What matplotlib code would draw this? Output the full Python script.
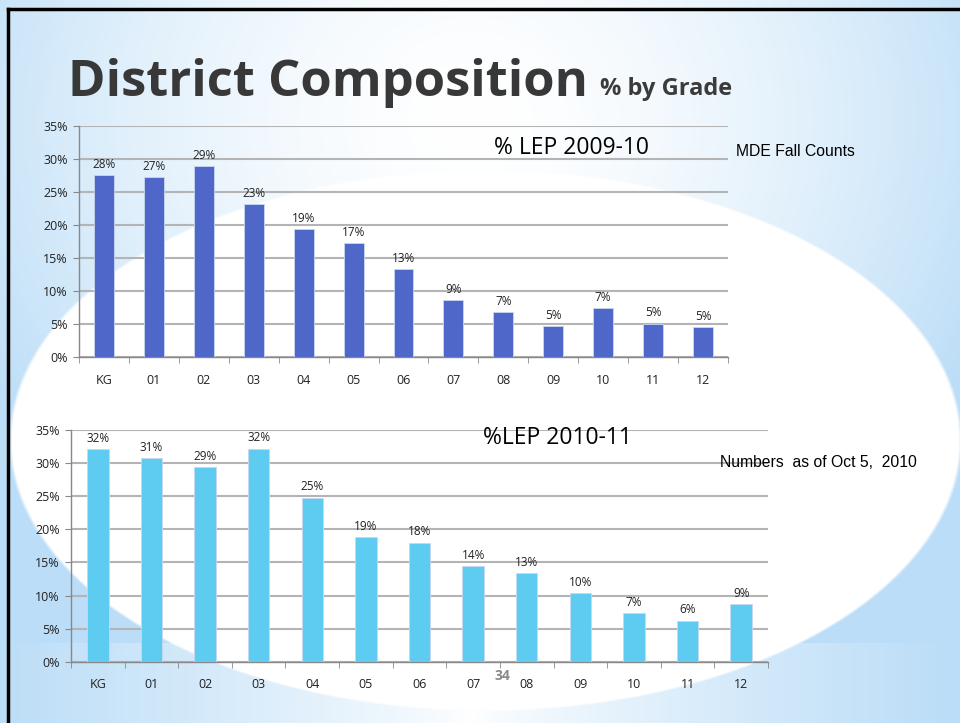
import numpy as np
import matplotlib
matplotlib.use("Agg")
import matplotlib.pyplot as plt
from matplotlib.lines import Line2D

grades = ["KG", "01", "02", "03", "04", "05", "06", "07", "08", "09", "10", "11", "12"]
lep_2009 = [27.6, 27.3, 28.9, 23.2, 19.4, 17.3, 13.3, 8.7, 6.8, 4.7, 7.4, 5.1, 4.6]
lep_2010 = [32.1, 30.7, 29.4, 32.2, 24.8, 18.8, 18.0, 14.4, 13.4, 10.4, 7.4, 6.2, 8.7]
yticks = [0, 5, 10, 15, 20, 25, 30, 35]

W, H = 960, 723
fig = plt.figure(figsize=(W / 100, H / 100), dpi=100)

# slide background: blue gradient, white glow, bottom band, white ellipse
yy, xx = np.mgrid[0:H, 0:W].astype(float)
blue = np.array([0.74, 0.87, 0.97])
white = np.array([1.0, 1.0, 1.0])
t = np.clip(np.sqrt(((xx - 470) / 560) ** 2 + ((yy - 120) / 520) ** 2), 0, 1) ** 1.6
img = white * (1 - t[..., None]) + blue * t[..., None]
band = yy >= 643
tb = np.clip(np.abs(xx - 470) / 470, 0, 1) ** 0.8
img[band] = (white * (1 - tb[..., None]) + blue * tb[..., None])[band]
r = np.sqrt(((xx - 485) / 475) ** 2 + ((yy - 440) / 270) ** 2)
a = np.clip((1.004 - r) / 0.008, 0, 1)[..., None]
img = white * a + img * (1 - a)
bg = fig.add_axes([0, 0, 1, 1], zorder=-10)
bg.imshow(img, aspect="auto", extent=[0, 1, 0, 1], origin="upper")
bg.set_xlim(0, 1)
bg.set_ylim(0, 1)
bg.axis("off")

# slide frame
fig.add_artist(Line2D([8 / W, 1], [1 - 9 / H, 1 - 9 / H], color="black", lw=2.5,
                      transform=fig.transFigure))
fig.add_artist(Line2D([8 / W, 8 / W], [0, 1 - 9 / H], color="black", lw=2.5,
                      transform=fig.transFigure))

fig.text(68 / W, 1 - 96 / H, "District Composition", fontsize=36.5, fontweight="bold",
         color="#383838", family="Open Sans", ha="left", va="baseline")
fig.text(600 / W, 1 - 95 / H, "% by Grade", fontsize=17, fontweight="bold",
         color="#3b3b3b", family="Open Sans", ha="left", va="baseline")


def draw(rect, values, color, title, title_xy, note, note_xy):
    ax = fig.add_axes(rect)
    ax.patch.set_alpha(0)
    x = np.arange(len(grades))
    bars = ax.bar(x, values, width=0.4, color=color, edgecolor="#c8d8f0", linewidth=0.6, zorder=3)
    for b, v in zip(bars, values):
        ax.annotate(f"{v:.0f}%", (b.get_x() + b.get_width() / 2, v), xytext=(0, 3),
                    textcoords="offset points", ha="center", va="bottom",
                    fontsize=8.5, family="Open Sans", color="#222222")
    ax.set_xlim(-0.5, len(grades) - 0.5)
    ax.set_ylim(0, 35)
    ax.set_yticks(yticks)
    ax.set_yticklabels([f"{v}%" for v in yticks], fontsize=9, family="Open Sans", color="#222222")
    ax.set_xticks(x)
    ax.set_xticklabels(grades, fontsize=9, family="Open Sans", color="#222222")
    ax.set_xticks(np.arange(len(grades) + 1) - 0.5, minor=True)
    ax.tick_params(axis="x", which="major", length=0, pad=12)
    ax.tick_params(axis="x", which="minor", length=4, color="#888888", direction="out")
    ax.tick_params(axis="y", length=4, color="#888888", pad=4)
    ax.yaxis.grid(True, color="#b4b4b4", lw=1.5, zorder=0)
    ax.set_axisbelow(True)
    for s in ["top", "right"]:
        ax.spines[s].set_visible(False)
    for s in ["left", "bottom"]:
        ax.spines[s].set_color("#888888")
        ax.spines[s].set_linewidth(1.0)
    fig.text(title_xy[0] / W, 1 - title_xy[1] / H, title, fontsize=16.5, family="Open Sans",
             fontweight="medium", color="black", ha="center", va="center")
    fig.text(note_xy[0] / W, 1 - note_xy[1] / H, note, fontsize=11.3, family="Liberation Sans",
             color="black", ha="left", va="center")
    return ax


draw([79 / W, 1 - 357.3 / H, 649 / W, 231.3 / H], lep_2009, "#4f67c8",
     "% LEP 2009-10", (572, 148), "MDE Fall Counts", (736, 151))
draw([71 / W, 1 - 661.7 / H, 697 / W, 231.7 / H], lep_2010, "#5ecbf1",
     "%LEP 2010-11", (557, 438), "Numbers  as of Oct 5,  2010", (720, 463))

fig.text(502 / W, 1 - 676 / H, "34", fontsize=10, fontweight="bold", color="#8a8a8a",
         family="Open Sans", ha="center", va="center")

fig.savefig("out.png", dpi=100)
